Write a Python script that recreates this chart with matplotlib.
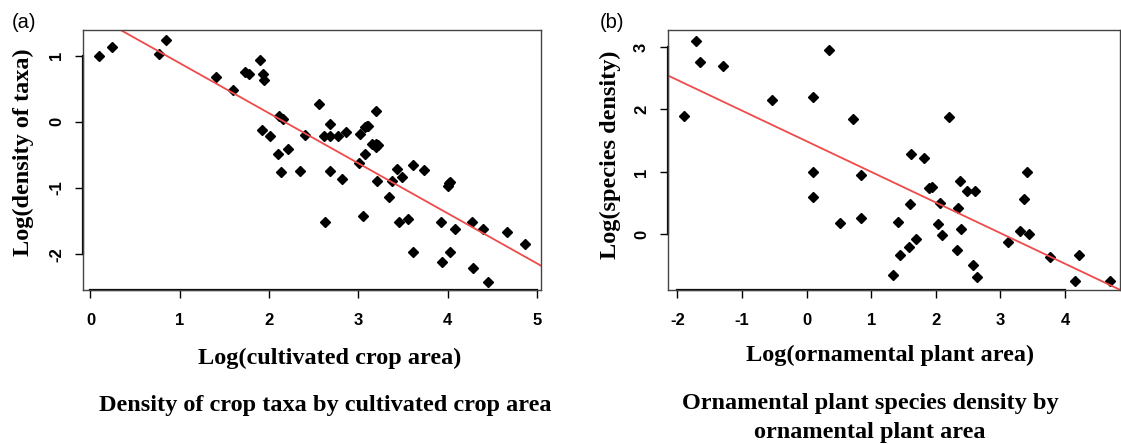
import numpy as np
import matplotlib.pyplot as plt

# panel (a): crop taxa density vs cultivated crop area (log scale values)
crop_area = [0.10, 0.24, 0.77, 0.85, 1.41, 1.59, 1.73, 1.775, 1.90, 1.93, 1.94,
             2.11, 2.15, 1.92, 2.01, 2.10, 2.21, 2.13, 2.34, 2.40, 2.56, 2.61,
             2.685, 2.685, 2.77, 2.86, 2.68, 2.82, 2.62, 3.01, 3.02, 3.20, 3.07,
             3.09, 3.11, 3.15, 3.20, 3.22, 3.20, 3.07, 3.055, 3.205, 3.34, 3.38,
             3.43, 3.485, 3.61, 3.73, 3.455, 3.56, 3.61, 3.92, 4.00, 4.01, 4.02,
             4.085, 4.03, 3.93, 4.27, 4.39, 4.28, 4.45, 4.66, 4.86]
crop_density = [0.99, 1.13, 1.03, 1.23, 0.67, 0.48, 0.755, 0.72, 0.93, 0.72, 0.625,
                0.086, 0.04, -0.125, -0.21, -0.48, -0.41, -0.76, -0.74, -0.20, 0.27, -0.21,
                -0.04, -0.21, -0.21, -0.15, -0.74, -0.87, -1.515, -0.62, -0.19, 0.166, -0.075,
                -0.065, -0.065, -0.33, -0.34, -0.35, -0.38, -0.49, -1.43, -0.90, -1.14, -0.895,
                -0.715, -0.84, -0.655, -0.735, -1.515, -1.475, -1.97, -1.515, -0.97, -0.93, -0.91,
                -1.62, -1.97, -2.12, -1.515, -1.62, -2.21, -2.42, -1.67, -1.84]
crop_fit = (1.64, -0.756)   # intercept, slope

# panel (b): ornamental species density vs ornamental plant area
orn_area = [-1.89, -1.71, -1.65, -1.30, -0.53, 0.10, 0.35, 0.72, 0.10, 0.10, 0.84,
            0.52, 0.84, 1.34, 1.41, 1.44, 1.59, 1.60, 1.62, 1.70, 1.81, 1.90, 1.94,
            2.03, 2.06, 2.09, 2.20, 2.33, 2.35, 2.37, 2.39, 2.48, 2.57, 2.60, 2.64,
            3.11, 3.31, 3.37, 3.41, 3.44, 3.76, 4.16, 4.22, 4.69]
orn_density = [1.89, 3.10, 2.76, 2.70, 2.15, 2.20, 2.95, 1.85, 0.99, 0.59, 0.95,
               0.18, 0.26, -0.65, 0.20, -0.33, -0.20, 0.485, 1.28, -0.08, 1.23, 0.736, 0.76,
               0.165, 0.506, -0.006, 1.877, -0.245, 0.42, 0.85, 0.09, 0.70, -0.49, 0.70, -0.69,
               -0.12, 0.05, 0.56, 0.99, 0.005, -0.36, -0.75, -0.33, -0.74]
orn_fit = (1.49, -0.49)

plt.rcParams['axes.unicode_minus'] = False

W, H = 1121, 444
fig = plt.figure(figsize=(W / 100, H / 100), dpi=100)

serif = 'Liberation Serif'
sans = 'Liberation Sans'


def px(x, y):
    return x / W, 1 - y / H


def setup(ax, xticks, yticks, xlim, ylim):
    ax.set_xlim(*xlim)
    ax.set_ylim(*ylim)
    ax.set_xticks(xticks)
    ax.set_yticks(yticks)
    for s in ax.spines.values():
        s.set_color('#444444')
        s.set_linewidth(1.0)
    ax.tick_params(axis='both', direction='out', length=5.5, width=1.0,
                   labelsize=12, colors='black')
    ax.tick_params(axis='x', pad=11)
    ax.tick_params(axis='y', pad=8)
    for lab in ax.get_xticklabels():
        lab.set_fontfamily(sans)
        lab.set_fontweight('bold')
    for lab in ax.get_yticklabels():
        lab.set_fontfamily(sans)
        lab.set_fontweight('bold')
        lab.set_rotation(90)
        lab.set_verticalalignment('center')
    # R style axis line spanning the ticks
    ax.plot([xticks[0], xticks[-1]], [0, 0], color='black', lw=1.6,
            transform=ax.get_xaxis_transform(), clip_on=False)
    ax.plot([0, 0], [yticks[0], yticks[-1]], color='black', lw=1.6,
            transform=ax.get_yaxis_transform(), clip_on=False)


# ---- panel (a)
ax1 = fig.add_axes([82.7 / W, 1 - 290 / H, (540.7 - 82.7) / W, 260 / H])
setup(ax1, [0, 1, 2, 3, 4, 5], [-2, -1, 0, 1], (-0.087, 5.04), (-2.54, 1.385))
ax1.plot(crop_area, crop_density, 'D', color='black', ms=5.5, mec='black')
ax1.axline((0, crop_fit[0]), slope=crop_fit[1], color='#f04a4a', lw=1.3)

fig.text(*px(24, 22), '(a)', family=sans, fontsize=14.5, ha='center', va='center')
fig.text(*px(23, 152), 'Log(density of taxa)', family=serif, fontweight='bold',
         fontsize=17.5, rotation=90, ha='center', va='center')
fig.text(*px(330, 358), 'Log(cultivated crop area)', family=serif, fontweight='bold',
         fontsize=17.5, ha='center', va='center')
fig.text(*px(325, 405), 'Density of crop taxa by cultivated crop area', family=serif,
         fontweight='bold', fontsize=17.5, ha='center', va='center')

# ---- panel (b)
ax2 = fig.add_axes([667.7 / W, 1 - 290 / H, (1120.3 - 667.7) / W, 260 / H])
setup(ax2, [-2, -1, 0, 1, 2, 3, 4], [0, 1, 2, 3], (-2.15, 4.855), (-0.89, 3.27))
ax2.plot(orn_area, orn_density, 'D', color='black', ms=5.5, mec='black')
ax2.axline((0, orn_fit[0]), slope=orn_fit[1], color='#f04a4a', lw=1.3)

fig.text(*px(612, 22), '(b)', family=sans, fontsize=14.5, ha='center', va='center')
fig.text(*px(610, 155), 'Log(species density)', family=serif, fontweight='bold',
         fontsize=17.5, rotation=90, ha='center', va='center')
fig.text(*px(890, 355), 'Log(ornamental plant area)', family=serif, fontweight='bold',
         fontsize=17.5, ha='center', va='center')
fig.text(*px(870, 418), 'Ornamental plant species density by\nornamental plant area',
         family=serif, fontweight='bold', fontsize=17.5, ha='center', va='center',
         multialignment='center', linespacing=1.45)

fig.savefig('out.png', dpi=100)
